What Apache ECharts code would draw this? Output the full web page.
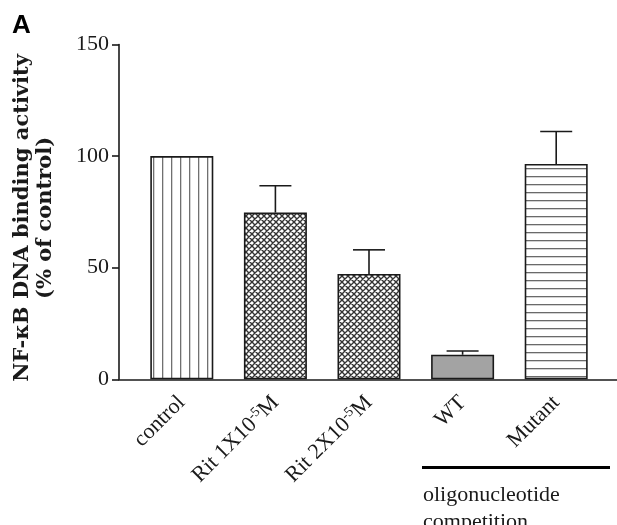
<!DOCTYPE html>
<html>
<head>
<meta charset="utf-8">
<script src="https://cdn.jsdelivr.net/npm/echarts@6/dist/echarts.min.js"></script>
<style>
  html, body { margin: 0; padding: 0; background: #fff; }
  #chart { width: 617px; height: 525px; }
</style>
</head>
<body>
<div id="chart"></div>
<script>
// data
const categories = ['control', 'Rit 1X10{sup|-5}M', 'Rit 2X10{sup|-5}M', 'WT', 'Mutant']
const means = [100, 74.7, 47.2, 11.0, 96.5]
const sems = [0, 12.0, 10.8, 1.7, 14.5]
const yTicks = { min: 0, max: 150, interval: 50 }
const groupLabel = ['oligonucleotide', 'competition']

const serif = '"Liberation Serif", "Times New Roman", serif'
const ink = '#1a1a1a'

function makePattern(w, h, draw) {
  const c = document.createElement('canvas')
  c.width = w
  c.height = h
  const ctx = c.getContext('2d')
  ctx.fillStyle = '#fff'
  ctx.fillRect(0, 0, w, h)
  draw(ctx, w, h)
  return { image: c, repeat: 'repeat' }
}

const vLines = makePattern(9, 4, (ctx, w, h) => {
  ctx.fillStyle = '#707070'
  ctx.fillRect(0, 0, 1.3, h)
})
const hLines = makePattern(4, 8, (ctx, w, h) => {
  ctx.fillStyle = '#6a6a6a'
  ctx.fillRect(0, 0, w, 1.3)
})
const crossHatch = makePattern(6, 6, (ctx, w, h) => {
  ctx.strokeStyle = '#333'
  ctx.lineWidth = 1.4
  ctx.beginPath()
  for (let k = -1; k <= 1; k++) {
    ctx.moveTo(k * w, 0)
    ctx.lineTo(k * w + w, h)
    ctx.moveTo(k * w + w, 0)
    ctx.lineTo(k * w, h)
  }
  ctx.stroke()
})
const fills = [vLines, crossHatch, crossHatch, '#a3a3a3', hLines]

const chart = echarts.init(document.getElementById('chart'))

chart.setOption({
  animation: false,
  backgroundColor: '#fff',
  grid: [
    { left: 135, width: 468, top: 44.5, bottom: 145.7 },
    { left: 119, right: 0, top: 44.5, bottom: 145.7 },
  ],
  xAxis: [
    {
      type: 'category',
      gridIndex: 0,
      data: categories,
      axisLine: { show: false },
      axisTick: { show: false },
      axisLabel: {
        rotate: 45,
        margin: 20,
        interval: 0,
        color: ink,
        fontFamily: serif,
        fontSize: 22,
        rich: {
          sup: { fontSize: 14, fontFamily: serif, color: ink, verticalAlign: 'top', lineHeight: 24 },
        },
      },
    },
    {
      type: 'value',
      gridIndex: 1,
      min: 0,
      max: 1,
      axisLine: { show: true, onZero: false, lineStyle: { color: ink, width: 1.6 } },
      axisTick: { show: false },
      axisLabel: { show: false },
      splitLine: { show: false },
    },
  ],
  yAxis: [
    {
      type: 'value',
      gridIndex: 0,
      min: yTicks.min,
      max: yTicks.max,
      interval: yTicks.interval,
      offset: 16,
      name: 'NF-κB DNA binding activity\n(% of control)',
      nameLocation: 'middle',
      nameGap: 62,
      nameTextStyle: {
        fontFamily: '"DejaVu Serif", serif',
        fontWeight: 'bold',
        fontSize: 21,
        lineHeight: 23,
        color: ink,
        padding: [0, 12, 0, 0],
      },
      axisLine: { show: true, lineStyle: { color: ink, width: 1.6 } },
      axisTick: { show: true, length: 7, lineStyle: { color: ink, width: 1.6 } },
      axisLabel: { margin: 10, color: ink, fontFamily: serif, fontSize: 22 },
      splitLine: { show: false },
    },
    {
      type: 'value',
      gridIndex: 1,
      show: false,
      min: 0,
      max: 1,
    },
  ],
  series: [
    {
      type: 'bar',
      xAxisIndex: 0,
      yAxisIndex: 0,
      barWidth: 63,
      data: means.map((v, i) => ({
        value: v,
        itemStyle: { color: fills[i] },
      })),
      itemStyle: { borderColor: ink, borderWidth: 1.6 },
      z: 2,
    },
    {
      type: 'custom',
      xAxisIndex: 0,
      yAxisIndex: 0,
      data: means.map((v, i) => [i, v, v + sems[i]]),
      renderItem: (params, api) => {
        if (sems[params.dataIndex] <= 0) return null
        const base = api.coord([api.value(0), api.value(1)])
        const top = api.coord([api.value(0), api.value(2)])
        const half = 16
        const style = { stroke: ink, lineWidth: 1.6 }
        return {
          type: 'group',
          children: [
            { type: 'line', shape: { x1: base[0], y1: base[1], x2: top[0], y2: top[1] }, style },
            { type: 'line', shape: { x1: top[0] - half, y1: top[1], x2: top[0] + half, y2: top[1] }, style },
          ],
        }
      },
      z: 3,
    },
  ],
  graphic: [
    {
      type: 'text',
      left: 12,
      top: 13,
      style: { text: 'A', font: 'bold 26px "Liberation Sans", Arial, sans-serif', fill: '#000' },
    },
    {
      type: 'line',
      shape: { x1: 422, y1: 467.5, x2: 610, y2: 467.5 },
      style: { stroke: '#000', lineWidth: 3 },
    },
    {
      type: 'text',
      left: 423,
      top: 482,
      style: { text: groupLabel.join('\n'), font: '22px ' + serif, fill: ink, lineHeight: 27 },
    },
  ],
})
</script>
</body>
</html>
